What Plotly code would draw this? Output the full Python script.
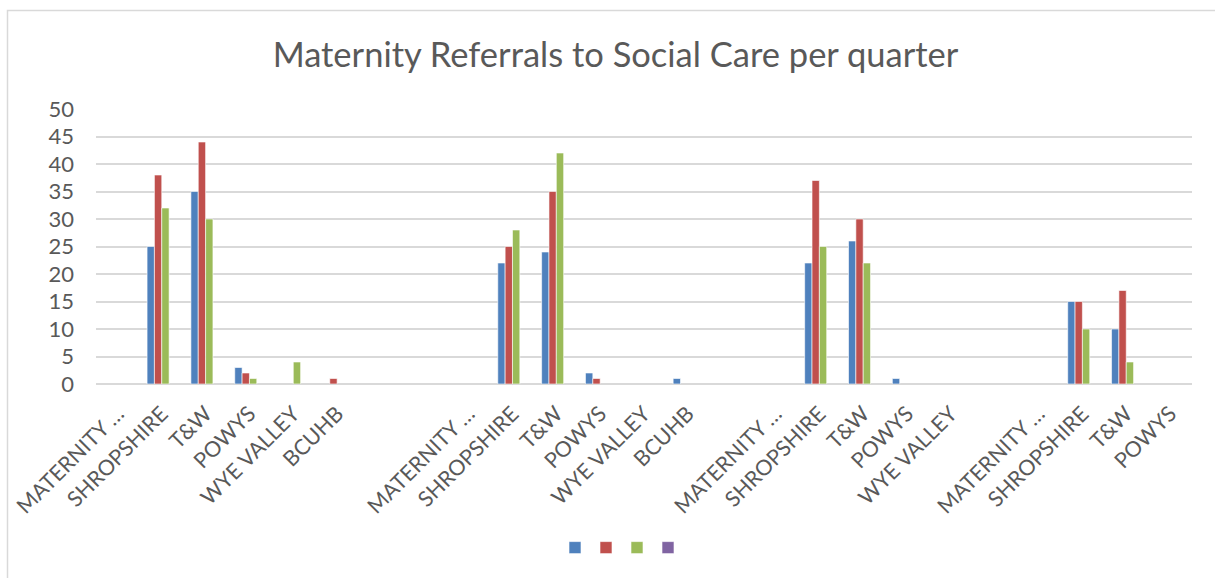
import plotly.graph_objects as go

# Category slots along the x axis (blank slots separate the quarters)
categories = [
    "MATERNITY …", "SHROPSHIRE", "T&W", "POWYS", "WYE VALLEY", "BCUHB", "", "",
    "MATERNITY …", "SHROPSHIRE", "T&W", "POWYS", "WYE VALLEY", "BCUHB", "",
    "MATERNITY …", "SHROPSHIRE", "T&W", "POWYS", "WYE VALLEY", "",
    "MATERNITY …", "SHROPSHIRE", "T&W", "POWYS",
]

N = None
series_1 = [N, 25, 35, 3, N, N, N, N,
            N, 22, 24, 2, N, 1, N,
            N, 22, 26, 1, N, N,
            N, 15, 10, N]
series_2 = [N, 38, 44, 2, N, 1, N, N,
            N, 25, 35, 1, N, N, N,
            N, 37, 30, N, N, N,
            N, 15, 17, N]
series_3 = [N, 32, 30, 1, 4, N, N, N,
            N, 28, 42, N, N, N, N,
            N, 25, 22, N, N, N,
            N, 10, 4, N]
series_4 = [N] * len(categories)

y_ticks = [0, 5, 10, 15, 20, 25, 30, 35, 40, 45, 50]

colors = ["#4F81BD", "#C0504D", "#9BBB59", "#8064A2"]
text_grey = "#595959"
grid_grey = "#D9D9D9"
font_family = "Lato, 'Open Sans', sans-serif"

x_pos = list(range(len(categories)))

fig = go.Figure()
for vals, col in zip([series_1, series_2, series_3, series_4], colors):
    fig.add_trace(go.Bar(
        x=x_pos, y=vals, name="",
        marker=dict(color=col, line=dict(color="white", width=0.6)),
    ))

fig.update_layout(
    template="none",
    width=1215, height=578,
    margin=dict(l=96, r=23, t=109, b=194),
    paper_bgcolor="white", plot_bgcolor="white",
    barmode="group", bargap=0.33, bargroupgap=0,
    font=dict(family=font_family, color=text_grey, size=21),
    title=dict(
        text="Maternity Referrals to Social Care per quarter",
        x=615.5 / 1215, xanchor="center", xref="container",
        y=1 - 55 / 578, yanchor="middle", yref="container",
        font=dict(family=font_family, size=34.5, color=text_grey),
    ),
    showlegend=True,
    legend=dict(
        orientation="h", x=(617 - 96) / 1096, xanchor="center",
        y=-(548 - 384) / 275, yanchor="middle",
        entrywidthmode="fraction", entrywidth=31 / 1096,
        font=dict(size=14),
        bgcolor="rgba(0,0,0,0)",
    ),
    xaxis=dict(
        range=[-0.5, len(categories) - 0.5],
        tickmode="array", tickvals=x_pos, ticktext=categories,
        tickangle=-45, showgrid=False, zeroline=False,
        showline=False, ticks="", ticklabelstandoff=12,
        tickfont=dict(size=21.5, color=text_grey),
        automargin=False, fixedrange=True,
    ),
    yaxis=dict(
        range=[0, 50], tickmode="array", tickvals=y_ticks,
        showgrid=True, gridcolor=grid_grey, gridwidth=1.5,
        zeroline=True, zerolinecolor=grid_grey, zerolinewidth=1.5,
        showline=False, ticks="", ticklabelstandoff=21,
        tickfont=dict(size=22, color=text_grey),
        automargin=False, fixedrange=True,
    ),
    shapes=[dict(
        type="rect", xref="paper", yref="paper",
        x0=(7.5 - 96) / 1096, x1=(1230 - 96) / 1096,
        y0=(384 - 600) / 275, y1=(384 - 10.5) / 275,
        line=dict(color="#D9D9D9", width=1.5), fillcolor="rgba(0,0,0,0)",
        layer="below",
    )],
)

fig.write_html("out.html")
